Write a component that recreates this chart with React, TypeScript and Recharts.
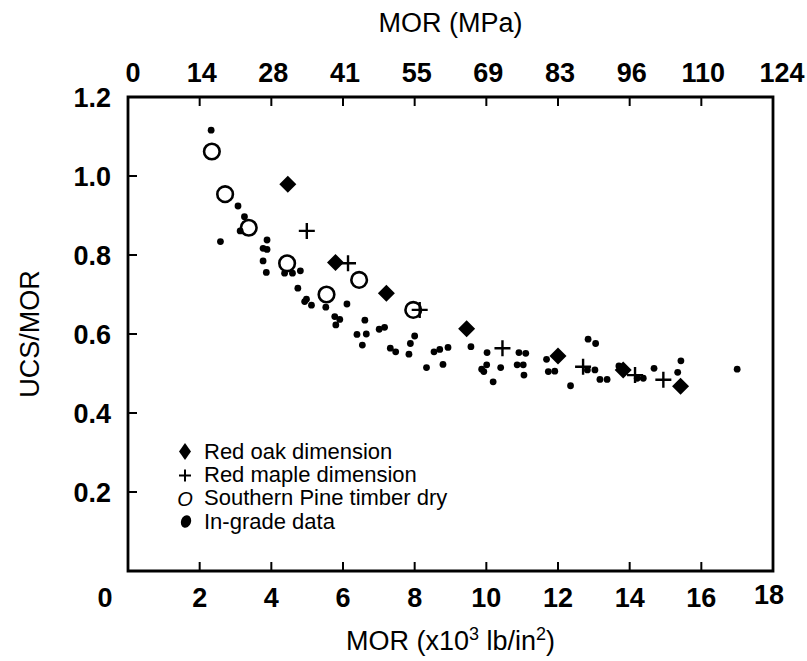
import { ScatterChart, Scatter, XAxis, YAxis, ReferenceArea, Legend } from "recharts";

// MOR (x10^3 lb/in^2) vs UCS/MOR
const xTicks = [0, 2, 4, 6, 8, 10, 12, 14, 16, 18];
const mpaLabels = ["0", "14", "28", "41", "55", "69", "83", "96", "110", "124"];
const yTicks = [0.2, 0.4, 0.6, 0.8, 1.0, 1.2];

const redOak = [
  { x: 4.46, y: 0.979 },
  { x: 5.79, y: 0.781 },
  { x: 7.21, y: 0.703 },
  { x: 9.45, y: 0.613 },
  { x: 12.0, y: 0.544 },
  { x: 13.82, y: 0.509 },
  { x: 15.42, y: 0.468 },
];

const redMaple = [
  { x: 4.99, y: 0.861 },
  { x: 6.14, y: 0.779 },
  { x: 8.14, y: 0.661 },
  { x: 10.45, y: 0.564 },
  { x: 12.7, y: 0.517 },
  { x: 14.15, y: 0.496 },
  { x: 14.94, y: 0.484 },
];

const southernPine = [
  { x: 2.34, y: 1.062 },
  { x: 2.71, y: 0.954 },
  { x: 3.37, y: 0.869 },
  { x: 4.44, y: 0.779 },
  { x: 5.54, y: 0.7 },
  { x: 6.45, y: 0.737 },
  { x: 7.96, y: 0.661 },
];

const inGrade = [
  { x: 2.32, y: 1.116 }, { x: 3.07, y: 0.924 }, { x: 3.25, y: 0.897 },
  { x: 3.13, y: 0.861 }, { x: 2.58, y: 0.834 }, { x: 3.88, y: 0.838 },
  { x: 3.77, y: 0.817 }, { x: 3.88, y: 0.814 }, { x: 3.77, y: 0.785 },
  { x: 3.86, y: 0.756 }, { x: 4.37, y: 0.754 }, { x: 4.59, y: 0.754 },
  { x: 4.81, y: 0.76 }, { x: 4.74, y: 0.716 }, { x: 4.98, y: 0.688 },
  { x: 4.93, y: 0.682 }, { x: 5.12, y: 0.673 }, { x: 5.52, y: 0.668 },
  { x: 6.11, y: 0.676 }, { x: 5.77, y: 0.644 }, { x: 5.91, y: 0.637 },
  { x: 5.8, y: 0.623 }, { x: 6.61, y: 0.635 }, { x: 6.39, y: 0.599 },
  { x: 6.65, y: 0.6 }, { x: 6.54, y: 0.572 }, { x: 7.01, y: 0.612 },
  { x: 7.16, y: 0.617 }, { x: 7.32, y: 0.564 }, { x: 7.47, y: 0.555 },
  { x: 8.0, y: 0.595 }, { x: 7.88, y: 0.576 }, { x: 7.84, y: 0.549 },
  { x: 8.54, y: 0.555 }, { x: 8.7, y: 0.561 }, { x: 8.93, y: 0.566 },
  { x: 8.33, y: 0.515 }, { x: 8.79, y: 0.523 }, { x: 9.57, y: 0.568 },
  { x: 10.02, y: 0.553 }, { x: 9.87, y: 0.511 }, { x: 10.01, y: 0.522 },
  { x: 9.93, y: 0.505 }, { x: 10.19, y: 0.479 }, { x: 10.4, y: 0.515 },
  { x: 10.91, y: 0.553 }, { x: 11.1, y: 0.551 }, { x: 10.86, y: 0.522 },
  { x: 11.03, y: 0.522 }, { x: 11.05, y: 0.496 }, { x: 11.68, y: 0.536 },
  { x: 11.73, y: 0.505 }, { x: 11.91, y: 0.506 }, { x: 12.35, y: 0.469 },
  { x: 12.84, y: 0.587 }, { x: 13.05, y: 0.576 }, { x: 12.82, y: 0.509 },
  { x: 13.03, y: 0.509 }, { x: 13.17, y: 0.485 }, { x: 13.37, y: 0.485 },
  { x: 13.7, y: 0.519 }, { x: 14.21, y: 0.488 }, { x: 14.38, y: 0.488 },
  { x: 14.68, y: 0.513 }, { x: 15.43, y: 0.532 }, { x: 15.34, y: 0.503 },
  { x: 17.0, y: 0.511 },
];

const legendLabels = ["Red oak dimension", "Red maple dimension", "Southern Pine timber dry", "In-grade data"];

const FONT = "'Liberation Sans', Arial, Helvetica, sans-serif";
const TICK_FONT = 27;
const TITLE_FONT = 27;

function DiamondMark({ cx, cy }: any) {
  const r = 8.5;
  return <polygon points={`${cx},${cy - r} ${cx + r},${cy} ${cx},${cy + r} ${cx - r},${cy}`} fill="#000" />;
}

function PlusMark({ cx, cy }: any) {
  const r = 8;
  return <path d={`M${cx - r},${cy}H${cx + r}M${cx},${cy - r}V${cy + r}`} stroke="#000" strokeWidth={2.4} fill="none" />;
}

function RingMark({ cx, cy }: any) {
  return <circle cx={cx} cy={cy} r={7.8} stroke="#000" strokeWidth={2.6} fill="none" />;
}

function DotMark({ cx, cy }: any) {
  return <circle cx={cx} cy={cy} r={3.4} fill="#000" />;
}

function BottomTick({ x, y, payload }: any) {
  const v = payload.value;
  const dx = v === 0 ? -23 : v === 18 ? -4 : 0;
  const dy = v === 18 ? -3 : 0;
  return (
    <text x={x + dx} y={y + 26 + dy} dy="0.36em" textAnchor="middle" fontFamily={FONT} fontWeight="bold" fontSize={TICK_FONT} fill="#000">
      {v}
    </text>
  );
}

function TopTick({ x, y, payload, index }: any) {
  const dx = index === 0 ? 5 : index === xTicks.length - 1 ? 9 : 2;
  return (
    <text x={x + dx} y={y} textAnchor="middle" fontFamily={FONT} fontWeight="bold" fontSize={TICK_FONT} fill="#000">
      {mpaLabels[index] ?? payload.value}
    </text>
  );
}

function BottomTitle({ viewBox }: any) {
  const cx = viewBox.x + viewBox.width / 2;
  return (
    <text x={cx} y={viewBox.y + 79} textAnchor="middle" fontFamily={FONT} fontSize={TITLE_FONT} fill="#000">
      MOR (x10<tspan fontSize={18} dy={-10}>3</tspan>
      <tspan dy={10}> lb/in</tspan>
      <tspan fontSize={18} dy={-10}>2</tspan>
      <tspan dy={10}>)</tspan>
    </text>
  );
}

function TopTitle({ viewBox }: any) {
  const cx = viewBox.x + viewBox.width / 2;
  return (
    <text x={cx} y={32} textAnchor="middle" fontFamily={FONT} fontSize={TITLE_FONT} fill="#000">
      MOR (MPa)
    </text>
  );
}

function SideTitle({ viewBox }: any) {
  const cy = viewBox.y + viewBox.height / 2;
  return (
    <text x={29} y={cy} transform={`rotate(-90 29 ${cy})`} dy="0.36em" textAnchor="middle" fontFamily={FONT} fontSize={TITLE_FONT} fill="#000">
      UCS/MOR
    </text>
  );
}

function LegendSymbol({ i }: { i: number }) {
  return (
    <svg width={24} height={23} style={{ display: "block", overflow: "visible" }}>
      {i === 0 && <polygon points="10,3 16,11.5 10,20 4,11.5" fill="#000" />}
      {i === 1 && <path d="M4,11.5H16M10,5.5V17.5" stroke="#000" strokeWidth={2} />}
      {i === 2 && (
        <text x={10} y={11.5} dy="0.36em" textAnchor="middle" fontFamily={FONT} fontStyle="italic" fontSize={20} fill="#000">
          O
        </text>
      )}
      {i === 3 && <ellipse cx={11} cy={11.5} rx={5} ry={6.5} transform="rotate(20 11 11.5)" fill="#000" />}
    </svg>
  );
}

function LegendBox() {
  return (
    <div style={{ fontFamily: FONT, fontSize: 22, color: "#000" }}>
      {legendLabels.map((label, i) => (
        <div key={label} style={{ display: "flex", alignItems: "center", height: 23.4 }}>
          <LegendSymbol i={i} />
          <span style={{ marginLeft: 5, whiteSpace: "nowrap" }}>{label}</span>
        </div>
      ))}
    </div>
  );
}

export default function App() {
  return (
    <div style={{ position: "absolute", left: 0, top: 0, width: 807, height: 661, background: "#fff" }}>
      <ScatterChart width={807} height={661} margin={{ top: 0, right: 34, bottom: 0, left: 0 }}>
        <XAxis
          xAxisId="b"
          type="number"
          dataKey="x"
          domain={[0, 18]}
          ticks={xTicks}
          height={90}
          axisLine={false}
          tickSize={-9}
          tickMargin={9}
          tickLine={{ stroke: "#000", strokeWidth: 2 }}
          tick={<BottomTick />}
          interval={0}
          label={<BottomTitle />}
        />
        <XAxis
          xAxisId="t"
          orientation="top"
          type="number"
          dataKey="x"
          domain={[0, 18]}
          ticks={xTicks}
          height={97}
          axisLine={false}
          tickSize={-9}
          tickMargin={24}
          tickLine={{ stroke: "#000", strokeWidth: 2 }}
          tick={<TopTick />}
          interval={0}
          label={<TopTitle />}
        />
        <YAxis
          yAxisId="l"
          type="number"
          dataKey="y"
          domain={[0, 1.2]}
          ticks={yTicks}
          width={128}
          axisLine={false}
          tickSize={-9}
          tickMargin={26}
          tickLine={{ stroke: "#000", strokeWidth: 2 }}
          tick={{ fontFamily: FONT, fontWeight: "bold", fontSize: TICK_FONT, fill: "#000" }}
          tickFormatter={(v: number) => v.toFixed(1)}
          interval={0}
          label={<SideTitle />}
        />
        <ReferenceArea xAxisId="b" yAxisId="l" x1={0} x2={18} y1={0} y2={1.2} fill="none" stroke="#000" strokeWidth={2.8} />
        <Scatter name="In-grade data" data={inGrade} xAxisId="b" yAxisId="l" shape={<DotMark />} isAnimationActive={false} />
        <Scatter name="Southern Pine timber dry" data={southernPine} xAxisId="b" yAxisId="l" shape={<RingMark />} isAnimationActive={false} />
        <Scatter name="Red maple dimension" data={redMaple} xAxisId="b" yAxisId="l" shape={<PlusMark />} isAnimationActive={false} />
        <Scatter name="Red oak dimension" data={redOak} xAxisId="b" yAxisId="l" shape={<DiamondMark />} isAnimationActive={false} />
        <Scatter name="top-scale" data={southernPine} xAxisId="t" yAxisId="l" shape={() => <g />} isAnimationActive={false} legendType="none" />
        <Legend
          layout="vertical"
          align="center"
          verticalAlign="middle"
          content={<LegendBox />}
          wrapperStyle={{ left: 175, top: 440, width: "auto", height: "auto" }}
        />
      </ScatterChart>
    </div>
  );
}
